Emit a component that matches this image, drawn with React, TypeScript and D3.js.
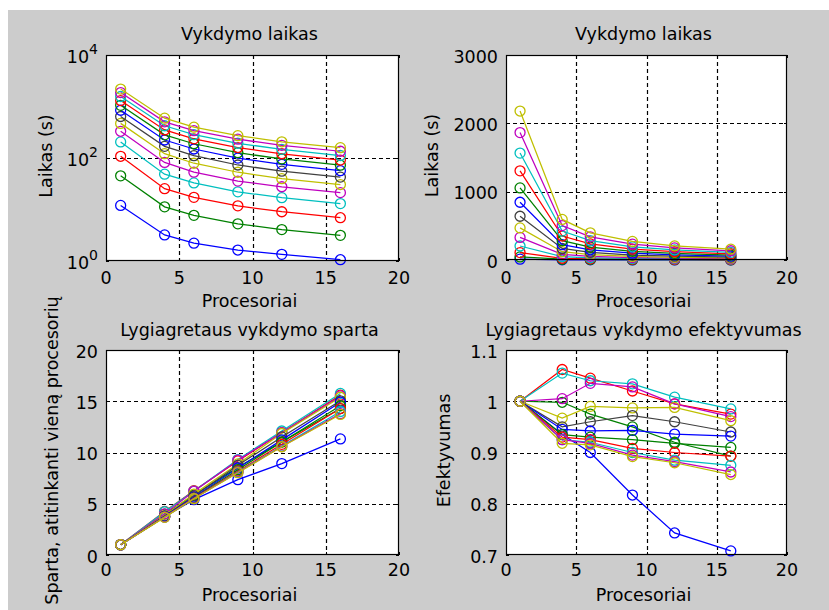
import React from "react";
import * as d3 from "d3";

// ---------- data ----------
const processors = [1, 4, 6, 9, 12, 16];
// serial (1 processor) execution time of each problem size, seconds
const serialTimes = [12, 45, 108, 205, 330, 470, 640, 845, 1055, 1305, 1565, 1865, 2180];
// parallel efficiency of each problem size at each processor count
const efficiency = [
  [1, 0.935, 0.9, 0.817, 0.743, 0.708],
  [1, 0.998, 0.975, 0.95, 0.92, 0.893],
  [1, 1.062, 1.045, 1.02, 0.995, 0.975],
  [1, 1.055, 1.04, 1.034, 1.008, 0.985],
  [1, 1.005, 1.035, 1.028, 0.995, 0.97],
  [1, 0.967, 0.99, 0.987, 0.988, 0.962],
  [1, 0.95, 0.96, 0.972, 0.96, 0.94],
  [1, 0.945, 0.942, 0.943, 0.936, 0.932],
  [1, 0.935, 0.93, 0.925, 0.918, 0.91],
  [1, 0.93, 0.925, 0.908, 0.9, 0.893],
  [1, 0.925, 0.92, 0.9, 0.885, 0.875],
  [1, 0.925, 0.918, 0.895, 0.882, 0.862],
  [1, 0.918, 0.915, 0.892, 0.88, 0.857],
];
// speedup = p * E, time = T1 / speedup
const speedup = efficiency.map((row) => row.map((e, i) => e * processors[i]));
const times = speedup.map((row, s) => row.map((sp) => serialTimes[s] / sp));

const colorOrder = ["#0000ff", "#008000", "#ff0000", "#00bfbf", "#bf00bf", "#bfbf00", "#404040"];

const xTicks = [0, 5, 10, 15, 20];
const logTicks = [1, 100, 10000];
const linTimeTicks = [0, 1000, 2000, 3000];
const speedTicks = [0, 5, 10, 15, 20];
const effTicks = [0.7, 0.8, 0.9, 1, 1.1];

const titles = ["Vykdymo laikas", "Vykdymo laikas", "Lygiagretaus vykdymo sparta", "Lygiagretaus vykdymo efektyvumas"];
const yLabels = ["Laikas (s)", "Laikas (s)", "Sparta, atitinkanti vieną procesorių", "Efektyvumas"];
const xLabel = "Procesoriai";

const FONT = "DejaVu Sans";
const FS = 17.5;

type PanelDef = {
  x0: number; x1: number; y0: number; y1: number;
  kind: "log" | "lin";
  yDomain: [number, number];
  yTicks: number[];
  data: number[][];
  title: string; ylabel: string;
  titleBase: number; tickBase: number; xlabBase: number; ylabX: number;
  logTicks?: boolean;
  fmt: (v: number) => string;
};

const panels: PanelDef[] = [
  { x0: 106, x1: 399, y0: 55, y1: 261, kind: "log", yDomain: [1, 10000], yTicks: logTicks, data: times,
    title: titles[0], ylabel: yLabels[0], titleBase: 40, tickBase: 284, xlabBase: 307, ylabX: 52, logTicks: true,
    fmt: (v) => String(Math.round(Math.log10(v))) },
  { x0: 506, x1: 787, y0: 55, y1: 260, kind: "lin", yDomain: [0, 3000], yTicks: linTimeTicks, data: times,
    title: titles[1], ylabel: yLabels[1], titleBase: 40, tickBase: 284, xlabBase: 307, ylabX: 438,
    fmt: (v) => String(v) },
  { x0: 106, x1: 399, y0: 350, y1: 555, kind: "lin", yDomain: [0, 20], yTicks: speedTicks, data: speedup,
    title: titles[2], ylabel: yLabels[2], titleBase: 336, tickBase: 576, xlabBase: 601, ylabX: 58,
    fmt: (v) => String(v) },
  { x0: 506, x1: 787, y0: 350, y1: 555, kind: "lin", yDomain: [0.7, 1.1], yTicks: effTicks, data: efficiency,
    title: titles[3], ylabel: yLabels[3], titleBase: 336, tickBase: 576, xlabBase: 601, ylabX: 450,
    fmt: (v) => (v === 1 ? "1" : String(v)) },
];

function Panel({ p }: { p: PanelDef }) {
  const x = d3.scaleLinear().domain([0, 20]).range([p.x0, p.x1]);
  const y = p.kind === "log"
    ? d3.scaleLog().domain(p.yDomain).range([p.y1, p.y0])
    : d3.scaleLinear().domain(p.yDomain).range([p.y1, p.y0]);
  const line = d3.line<number>().x((_, i) => x(processors[i])).y((v) => y(v));
  const cx = (p.x0 + p.x1) / 2 - 3;
  const cy = (p.y0 + p.y1) / 2 - 2;
  const tl = 3;
  const snap = (v: number) => Math.round(v) + 0.5;
  return (
    <g>
      <rect x={p.x0} y={p.y0} width={p.x1 - p.x0} height={p.y1 - p.y0} fill="#ffffff" />
      {/* grid */}
      {xTicks.filter((t) => t > 0 && t < 20).map((t) => (
        <line key={"gx" + t} x1={snap(x(t))} x2={snap(x(t))} y1={p.y0} y2={p.y1}
          stroke="#000" strokeWidth={1.2} strokeDasharray="4,3" />
      ))}
      {p.yTicks.filter((t) => t !== p.yDomain[0] && t !== p.yDomain[1]).map((t) => (
        <line key={"gy" + t} x1={p.x0} x2={p.x1} y1={snap(y(t))} y2={snap(y(t))}
          stroke="#000" strokeWidth={1.2} strokeDasharray="4,3" />
      ))}
      {/* tick marks */}
      {xTicks.map((t) => (
        <g key={"tx" + t}>
          <line x1={snap(x(t))} x2={snap(x(t))} y1={p.y1} y2={p.y1 - tl} stroke="#000" />
          <line x1={snap(x(t))} x2={snap(x(t))} y1={p.y0} y2={p.y0 + tl} stroke="#000" />
        </g>
      ))}
      {p.yTicks.map((t) => (
        <g key={"ty" + t}>
          <line x1={p.x0} x2={p.x0 + tl} y1={snap(y(t))} y2={snap(y(t))} stroke="#000" />
          <line x1={p.x1} x2={p.x1 - tl} y1={snap(y(t))} y2={snap(y(t))} stroke="#000" />
        </g>
      ))}
      {/* series */}
      {p.data.map((row, s) => {
        const c = colorOrder[s % colorOrder.length];
        return (
          <g key={"s" + s}>
            <path d={line(row) || ""} fill="none" stroke={c} strokeWidth={1.25} />
            {row.map((v, i) => (
              <circle key={i} cx={x(processors[i])} cy={y(v)} r={5} fill="none" stroke={c} strokeWidth={1.3} />
            ))}
          </g>
        );
      })}
      {/* box */}
      <rect x={p.x0 + 0.5} y={p.y0 + 0.5} width={p.x1 - p.x0 - 1} height={p.y1 - p.y0 - 1}
        fill="none" stroke="#000" strokeWidth={1.2} />
      {/* x tick labels */}
      {xTicks.map((t) => (
        <text key={"lx" + t} x={x(t)} y={p.tickBase} textAnchor="middle" fontFamily={FONT} fontSize={FS} fill="#000">{t}</text>
      ))}
      {/* y tick labels */}
      {p.yTicks.map((t) => (
        p.logTicks ? (
          <text key={"ly" + t} x={p.x0 - 8} y={y(t) + 7.5} textAnchor="end" fontFamily={FONT} fontSize={FS} fill="#000">
            10<tspan dy={-9} fontSize={14}>{p.fmt(t)}</tspan>
          </text>
        ) : (
          <text key={"ly" + t} x={p.x0 - 8} y={y(t) + 7.5} textAnchor="end" fontFamily={FONT} fontSize={FS} fill="#000">{p.fmt(t)}</text>
        )
      ))}
      <text x={cx} y={p.titleBase} textAnchor="middle" fontFamily={FONT} fontSize={FS} fill="#000">{p.title}</text>
      <text x={cx} y={p.xlabBase} textAnchor="middle" fontFamily={FONT} fontSize={FS} fill="#000">{xLabel}</text>
      <text transform={`translate(${p.ylabX},${cy}) rotate(-90)`} textAnchor="middle" fontFamily={FONT} fontSize={FS} fill="#000">{p.ylabel}</text>
    </g>
  );
}

export default function App() {
  return (
    <svg width={829} height={610} style={{ position: "absolute", left: 0, top: 0, display: "block" }}>
      <rect x={0} y={0} width={829} height={610} fill="#ffffff" />
      <rect x={8} y={10} width={821} height={600} fill="#cccccc" />
      {panels.map((p, i) => <Panel key={i} p={p} />)}
    </svg>
  );
}
